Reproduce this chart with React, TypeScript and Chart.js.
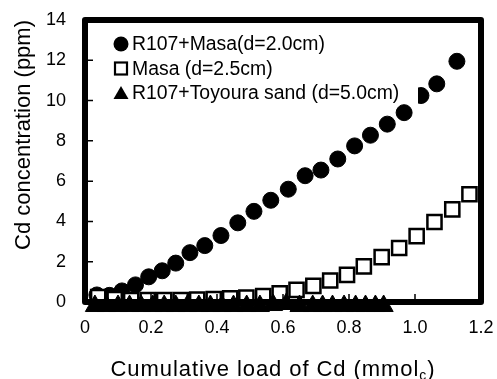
import React, { useEffect, useRef } from 'react';
import { Chart, registerables } from 'chart.js';

Chart.register(...registerables);

// ---- data ----
const r107MasaX = [0.036, 0.074, 0.112, 0.153, 0.193, 0.234, 0.275, 0.318, 0.363, 0.412, 0.463, 0.512, 0.563, 0.616, 0.667, 0.715, 0.766, 0.817, 0.865, 0.916, 0.967, 1.018, 1.066, 1.127];
const r107MasaY = [0.35, 0.33, 0.55, 0.85, 1.25, 1.55, 1.93, 2.45, 2.8, 3.3, 3.93, 4.5, 5.05, 5.6, 6.27, 6.55, 7.1, 7.75, 8.28, 8.83, 9.4, 10.25, 10.83, 11.95];

const masaX = [0.04, 0.09, 0.14, 0.19, 0.24, 0.29, 0.34, 0.39, 0.44, 0.489, 0.54, 0.59, 0.641, 0.692, 0.743, 0.794, 0.845, 0.899, 0.952, 1.005, 1.059, 1.113, 1.165];
const masaY = [0.25, 0.15, 0.1, 0.1, 0.1, 0.1, 0.12, 0.15, 0.18, 0.22, 0.3, 0.43, 0.6, 0.8, 1.07, 1.35, 1.77, 2.23, 2.68, 3.27, 3.97, 4.6, 5.35];

const toyouraX = [0.03, 0.065, 0.1, 0.135, 0.17, 0.205, 0.24, 0.275, 0.31, 0.345, 0.38, 0.415, 0.45, 0.49, 0.53, 0.57, 0.61, 0.65, 0.69, 0.72, 0.75, 0.785, 0.82, 0.85, 0.88, 0.905];
const toyouraY = [-0.2, -0.2, -0.2, -0.2, -0.2, -0.2, -0.2, -0.2, -0.2, -0.2, -0.2, -0.2, -0.2, -0.2, -0.2, -0.15, -0.1, -0.2, -0.2, -0.2, -0.2, -0.2, -0.2, -0.2, -0.2, -0.2];

const seriesLabels = ['R107+Masa(d=2.0cm)', 'Masa (d=2.5cm)', 'R107+Toyoura sand (d=5.0cm)'];

const xTickValues = [0, 0.2, 0.4, 0.6, 0.8, 1, 1.2];
const yTickValues = [0, 2, 4, 6, 8, 10, 12, 14];

const xTitleMain = 'Cumulative load of Cd (mmol';
const xTitleSub = 'c';
const xTitleEnd = ')';
const yTitle = 'Cd concentration (ppm)';

const FONT = "'Liberation Sans', Arial, Helvetica, sans-serif";

const toPoints = (xs: number[], ys: number[]) => xs.map((x, i) => ({ x, y: ys[i] }));

const zeroPadding = (scale: any) => {
  scale.paddingLeft = 0;
  scale.paddingRight = 0;
  scale.paddingTop = 0;
  scale.paddingBottom = 0;
};

const framePlugin = {
  id: 'frameTicks',
  afterDatasetsDraw(chart: any) {
    const { ctx, chartArea: ca, scales } = chart;
    ctx.save();
    ctx.strokeStyle = '#000';
    ctx.lineWidth = 1.5;
    ctx.beginPath();
    xTickValues.forEach((v) => {
      const px = scales.x.getPixelForValue(v);
      ctx.moveTo(px, ca.bottom);
      ctx.lineTo(px, ca.bottom - 8);
    });
    yTickValues.forEach((v) => {
      const py = scales.y.getPixelForValue(v);
      ctx.moveTo(ca.left, py);
      ctx.lineTo(ca.left + 8, py);
    });
    ctx.stroke();
    ctx.lineWidth = 6;
    ctx.lineJoin = 'round';
    ctx.strokeRect(ca.left, ca.top, ca.right - ca.left, ca.bottom - ca.top);
    ctx.restore();
  },
};

const legendPlugin = {
  id: 'customLegend',
  afterDraw(chart: any) {
    const { ctx, chartArea: ca } = chart;
    ctx.save();
    const boxLeft = ca.left + 25;
    const boxTop = ca.top + 10;
    const boxRight = ca.left + 333;
    const boxBottom = ca.top + 84;
    ctx.fillStyle = '#fff';
    ctx.fillRect(boxLeft, boxTop, boxRight - boxLeft, boxBottom - boxTop);

    const mx = ca.left + 36;
    const tx = ca.left + 47;
    const rowY = [ca.top + 24, ca.top + 48.5, ca.top + 73];
    ctx.font = `19.4px ${FONT}`;
    ctx.textBaseline = 'middle';
    ctx.textAlign = 'left';
    chart.data.datasets.forEach((ds: any, i: number) => {
      const y = rowY[i];
      ctx.fillStyle = '#000';
      ctx.strokeStyle = '#000';
      if (i === 0) {
        ctx.beginPath();
        ctx.arc(mx, y, 7.5, 0, Math.PI * 2);
        ctx.fill();
      } else if (i === 1) {
        ctx.lineWidth = 2.2;
        ctx.fillStyle = '#fff';
        ctx.fillRect(mx - 6, y - 6, 12, 12);
        ctx.strokeRect(mx - 6, y - 6, 12, 12);
      } else {
        ctx.beginPath();
        ctx.moveTo(mx, y - 7);
        ctx.lineTo(mx + 7.5, y + 6);
        ctx.lineTo(mx - 7.5, y + 6);
        ctx.closePath();
        ctx.fill();
      }
      ctx.fillStyle = '#000';
      ctx.fillText(ds.label, tx, y + 1);
    });
    ctx.restore();
  },
};

const xTitlePlugin = {
  id: 'xTitle',
  afterDraw(chart: any) {
    const { ctx, chartArea: ca } = chart;
    ctx.save();
    ctx.fillStyle = '#000';
    ctx.textAlign = 'left';
    ctx.textBaseline = 'alphabetic';
    const mainFont = `22px ${FONT}`;
    const subFont = `14px ${FONT}`;
    const c: any = ctx;
    c.letterSpacing = '0px';
    ctx.font = mainFont;
    const w1 = ctx.measureText(xTitleMain).width;
    const w3 = ctx.measureText(xTitleEnd).width;
    ctx.font = subFont;
    const w2 = ctx.measureText(xTitleSub).width;
    const target = 325;
    const n = xTitleMain.length + xTitleSub.length + xTitleEnd.length;
    const ls = Math.max(0, (target - (w1 + w2 + w3)) / n);
    c.letterSpacing = `${ls}px`;
    const center = (ca.left + ca.right) / 2 - 10;
    let x = center - target / 2;
    const baseY = ca.bottom + 74;
    ctx.font = mainFont;
    ctx.fillText(xTitleMain, x, baseY);
    x += ctx.measureText(xTitleMain).width;
    ctx.font = subFont;
    ctx.fillText(xTitleSub, x, baseY + 4);
    x += ctx.measureText(xTitleSub).width;
    ctx.font = mainFont;
    ctx.fillText(xTitleEnd, x, baseY);
    ctx.restore();
  },
};

export default function App() {
  const canvasRef = useRef<HTMLCanvasElement | null>(null);

  useEffect(() => {
    document.body.style.margin = '0';
    const canvas = canvasRef.current;
    if (!canvas) return;
    const tickFont = { family: FONT, size: 18 };
    const chart = new Chart(canvas, {
      type: 'scatter',
      data: {
        datasets: [
          {
            label: seriesLabels[0],
            data: toPoints(r107MasaX, r107MasaY),
            pointStyle: 'circle',
            pointRadius: 8,
            borderWidth: 1,
            backgroundColor: '#000',
            borderColor: '#000',
            order: 2,
            clip: false,
          },
          {
            label: seriesLabels[1],
            data: toPoints(masaX, masaY),
            pointStyle: 'rect',
            pointRadius: 10,
            borderWidth: 2.5,
            backgroundColor: '#fff',
            borderColor: '#000',
            order: 1,
            clip: false,
          },
          {
            label: seriesLabels[2],
            data: toPoints(toyouraX, toyouraY),
            pointStyle: 'triangle',
            pointRadius: 11,
            borderWidth: 1,
            backgroundColor: '#000',
            borderColor: '#000',
            order: 0,
            clip: false,
          },
        ] as any,
      },
      options: {
        animation: false,
        responsive: false,
        devicePixelRatio: 1,
        layout: { autoPadding: false, padding: { top: 20, right: 16, left: 0, bottom: 0 } },
        plugins: {
          legend: { display: false },
          tooltip: { enabled: false },
        },
        scales: {
          x: {
            type: 'linear',
            min: 0,
            max: 1.2,
            ticks: {
              stepSize: 0.2,
              color: '#000',
              font: tickFont,
              padding: 15,
              maxRotation: 0,
            },
            grid: { display: false, drawTicks: false },
            border: { display: false },
            title: { display: false },
            afterFit: (scale: any) => {
              scale.height = 77;
              zeroPadding(scale);
            },
          },
          y: {
            type: 'linear',
            min: 0,
            max: 14,
            ticks: {
              stepSize: 2,
              color: '#000',
              font: tickFont,
              padding: 19,
            },
            grid: { display: false, drawTicks: false },
            border: { display: false },
            title: {
              display: true,
              text: yTitle,
              color: '#000',
              font: { family: FONT, size: 22 },
              align: 'end',
              padding: { top: 11, bottom: 0 },
            },
            afterFit: (scale: any) => {
              scale.width = 85;
              zeroPadding(scale);
            },
          },
        },
      } as any,
      plugins: [framePlugin, legendPlugin, xTitlePlugin],
    });
    return () => chart.destroy();
  }, []);

  return (
    <div style={{ width: 497, height: 379 }}>
      <canvas ref={canvasRef} width={497} height={379} style={{ display: 'block' }} />
    </div>
  );
}
